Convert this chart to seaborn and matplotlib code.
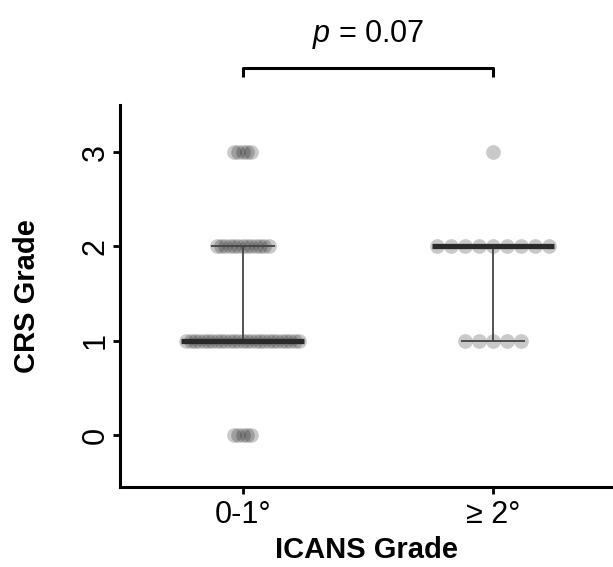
import numpy as np
import pandas as pd
import matplotlib
matplotlib.use("Agg")
import matplotlib.pyplot as plt
import seaborn as sns

# Data
groups = ["0-1°", "≥ 2°"]
grades = [0, 1, 2, 3]
counts_g1 = [5, 27, 13, 5]   # ICANS 0-1°
counts_g2 = [0, 5, 9, 1]     # ICANS >= 2°
p_text = "0.07"

sns.set_theme(style="ticks")
plt.rcParams['font.family'] = ['Liberation Sans', 'DejaVu Sans']
plt.rcParams['text.color'] = 'black'
plt.rcParams['axes.labelcolor'] = 'black'
plt.rcParams['mathtext.fontset'] = 'custom'
plt.rcParams['mathtext.it'] = 'Liberation Sans:italic'

# Build long table with stacked dot offsets
rows = []
max_width = 0.45
dot_step = 0.056
for gi, counts in enumerate([counts_g1, counts_g2]):
    nmax = max(counts)
    step = min(dot_step, max_width / (nmax - 1))
    for g, n in zip(grades, counts):
        for k in range(n):
            off = (k - (n - 1) / 2) * step
            rows.append({"group": groups[gi], "gi": gi, "x": gi + off, "grade": g})
df = pd.DataFrame(rows)

fig = plt.figure(figsize=(6.13, 5.67), dpi=100)
ax = fig.add_axes([0.196, 0.141, 0.804, 0.674])

sns.scatterplot(data=df, x="x", y="grade", color="black", alpha=0.21,
                s=112, linewidth=0, ax=ax, legend=False, zorder=2)

for gi in range(2):
    vals = df.loc[df.gi == gi, "grade"].to_numpy()
    med = np.median(vals)
    q1, q3 = np.percentile(vals, [25, 75])
    ax.vlines(gi, q1, q3, color="#444444", lw=1.3, zorder=3)
    ax.hlines([q1, q3], gi - 0.127, gi + 0.127, color="#444444", lw=1.3, zorder=3)
    ax.hlines(med, gi - 0.245, gi + 0.245, color="#2a2a2a", lw=3.8, zorder=4)

ax.set_xlim(-0.49, 1.48)
ax.set_ylim(-0.55, 3.5)
ax.set_xticks([0, 1])
ax.set_xticklabels(groups, fontsize=22)
ax.set_yticks(grades)
ax.set_yticklabels([str(g) for g in grades], fontsize=22, rotation=90, va="center")
ax.set_xlabel("ICANS Grade", fontsize=21, fontweight="bold")
ax.set_ylabel("CRS Grade", fontsize=21, fontweight="bold")
ax.xaxis.set_label_coords(0.5, -0.128)
ax.yaxis.set_label_coords(-0.16, 0.5)
for side in ["top", "right"]:
    ax.spines[side].set_visible(False)
for side in ["left", "bottom"]:
    ax.spines[side].set_linewidth(2.2)
    ax.spines[side].set_color("black")
ax.tick_params(axis="both", width=2, length=5, color="black", labelcolor="black")
ax.tick_params(axis="x", pad=4)
ax.tick_params(axis="y", pad=2)

# significance bracket
ytop = 3.89
ax.plot([0, 0, 1, 1], [ytop - 0.09, ytop, ytop, ytop - 0.09], color="black",
        lw=2.2, clip_on=False, solid_capstyle="butt")
ax.text(0.5, 4.25, r"$\mathit{p}$ = " + p_text, ha="center", va="center", fontsize=22)

fig.savefig("out.png", dpi=100)
